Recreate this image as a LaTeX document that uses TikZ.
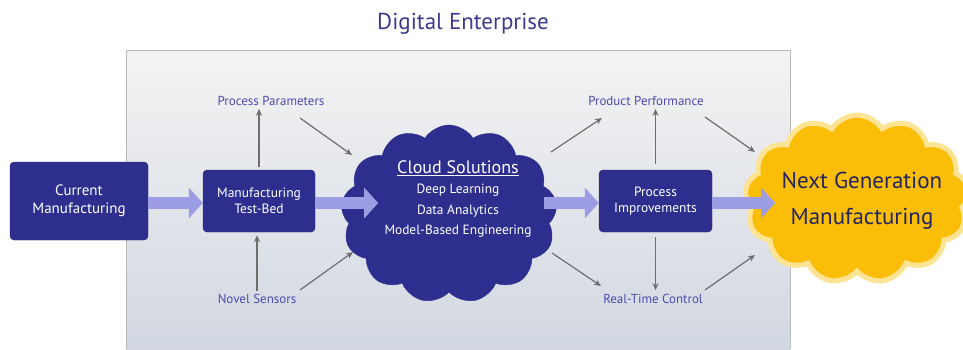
\documentclass[tikz,border=0pt]{standalone}
\usepackage{fontspec}
\setmainfont{PT Sans}
\usetikzlibrary{shapes.symbols,arrows.meta}
\definecolor{navy}{HTML}{2E2E8E}
\definecolor{lbl}{HTML}{4C4CAE}
\definecolor{fat}{HTML}{9D9DE3}
\definecolor{gold}{HTML}{FBBE08}
\definecolor{goldglow}{HTML}{FDE495}
\definecolor{ttl}{HTML}{3B3B90}
\definecolor{ink}{HTML}{25255E}
\definecolor{garr}{HTML}{6E6E6E}
\definecolor{bgtop}{HTML}{F3F3F3}
\definecolor{bgbot}{HTML}{D2D8E2}
\begin{document}
\begin{tikzpicture}[x=1pt,y=-1pt,
  box/.style={draw=navy!85!black, fill=navy, rounded corners=4pt, text=white, align=center, inner sep=0pt,
    font=\fontsize{13.5}{16}\selectfont},
  lab/.style={text=lbl, font=\fontsize{13}{15}\selectfont, inner sep=1pt},
  fatarrow/.style={draw=fat, line width=12pt, -{Triangle[length=14pt,width=30pt]}},
  garrow/.style={draw=garr, line width=1.2pt, -{Stealth[length=7pt,width=6pt]}},
  cloudshape/.style={cloud, cloud puffs=13, cloud puff arc=115, aspect=1.3, inner sep=0pt}
]
\useasboundingbox (0,0) rectangle (963,349);
\fill[white] (0,0) rectangle (963,349);
\shade[top color=bgtop, bottom color=bgbot] (126,50) rectangle (790,349);
\draw[gray!55, line width=0.8pt] (126,349) -- (126,50) -- (790,50) -- (790,349);

\node[text=ttl, font=\fontsize{23}{26}\selectfont] (title) at (463,24) {Digital Enterprise};

\node[box, minimum width=138pt, minimum height=78pt, font=\fontsize{15}{18}\selectfont] (cur) at (79,201) {Current\\Manufacturing};
\node[box, minimum width=112pt, minimum height=62pt] (tb) at (259,201) {Manufacturing\\Test-Bed};
\node[box, minimum width=113pt, minimum height=62pt] (pi) at (655.5,201) {Process\\Improvements};

\node[cloudshape, fill=navy, draw=navy, minimum width=216pt, minimum height=178pt] (cl) at (449,214) {};
\node[text=white, align=center, font=\fontsize{13.4}{20.5}\selectfont] (cltext) at (458,199)
  {{\fontsize{18}{20}\selectfont\underline{Cloud Solutions}}\\Deep Learning\\Data Analytics\\Model-Based Engineering};

\node[cloudshape, fill=gold, draw=goldglow, line width=5pt, minimum width=224pt, minimum height=168pt] (ng) at (857,199) {};
\node[text=ink, align=center, font=\fontsize{23}{36}\selectfont] (ngtext) at (862,201) {Next Generation\\Manufacturing};

\node[lab] (pp) at (271,101) {Process Parameters};
\node[lab] (ns) at (257,299) {Novel Sensors};
\node[lab] (pf) at (646,101) {Product Performance};
\node[lab] (rt) at (653,299) {Real-Time Control};

\coordinate (a1) at (300,118); \coordinate (b1) at (352,155);
\coordinate (a2) at (300,290); \coordinate (b2) at (353,252);
\coordinate (a3) at (551,152); \coordinate (b3) at (602,118);
\coordinate (a4) at (705,117); \coordinate (b4) at (755,152);
\coordinate (a5) at (552,253); \coordinate (b5) at (601,286);
\coordinate (a6) at (705,290); \coordinate (b6) at (755,255);

\draw[garrow, shorten <=3pt, shorten >=2pt] (tb.north) -- (tb.north |- pp.south);
\draw[garrow, shorten <=2pt, shorten >=3pt] (ns.north) -- (ns.north |- tb.south) ;
\draw[garrow] (a1) -- (b1);
\draw[garrow] (a2) -- (b2);
\draw[garrow] (a3) -- (b3);
\draw[garrow, shorten <=6pt, shorten >=2pt] (pi.north) -- (pi.north |- pf.south);
\draw[garrow] (a4) -- (b4);
\draw[garrow, shorten <=5pt, shorten >=3pt] (pi.south) -- (pi.south |- rt.north);
\draw[garrow] (a5) -- (b5);
\draw[garrow] (a6) -- (b6);

\draw[fatarrow] (cur.east |- 0,203) -- (tb.west |- 0,203);
\draw[fatarrow] (tb.east |- 0,203) -- ([xshift=63pt]tb.east |- 0,203);
\draw[fatarrow] ([xshift=-55pt]pi.west |- 0,203) -- (pi.west |- 0,203);
\draw[fatarrow] (pi.east |- 0,203) -- ([xshift=63pt]pi.east |- 0,203);
\end{tikzpicture}
\end{document}
